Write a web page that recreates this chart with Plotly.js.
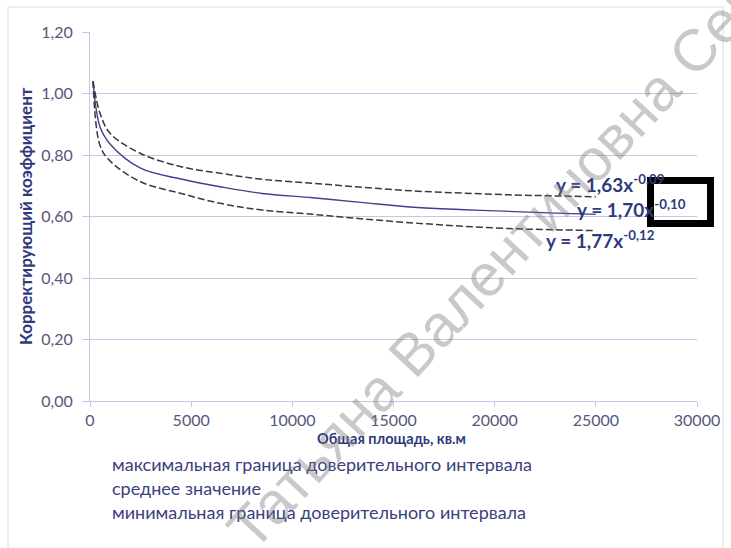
<!DOCTYPE html>
<html>
<head>
<meta charset="utf-8">
<script src="https://cdn.plot.ly/plotly-3.0.1.min.js"></script>
<style>html,body{margin:0;padding:0;background:#fff;}#chart{width:731px;height:548px;}</style>
</head>
<body>
<div id="chart"></div>
<script>
// Data
const area = [150, 500, 1000, 2500, 4500, 6500, 8500, 11000, 13500, 16000, 18500, 21000, 23000, 25000];
const upperBound = [1.04, 0.935, 0.87, 0.805, 0.762, 0.740, 0.721, 0.708, 0.695, 0.683, 0.676, 0.670, 0.667, 0.664];
const meanValue  = [1.04, 0.89, 0.835, 0.757, 0.722, 0.696, 0.675, 0.661, 0.645, 0.630, 0.622, 0.616, 0.611, 0.607];
const lowerBound = [1.04, 0.83, 0.78, 0.713, 0.675, 0.642, 0.621, 0.607, 0.592, 0.579, 0.568, 0.560, 0.557, 0.554];

const yTicks = [0, 0.2, 0.4, 0.6, 0.8, 1.0, 1.2];
const xTicks = [0, 5000, 10000, 15000, 20000, 25000, 30000];

const legendLabels = [
  "максимальная граница доверительного интервала",
  "среднее значение",
  "минимальная граница доверительного интервала"
];
const equations = ["y = 1,63x<sup>-0,09</sup>", "y = 1,70x<sup>-0,10</sup>", "y = 1,77x<sup>-0,12</sup>"];

const FONT = "Lato, 'Open Sans', sans-serif";
const NAVY = "#2f3a7e";
const GRID = "#c6c6e8";

// plot area in px: left 90, right 697, top 32, bottom 401
const L = 90, R = 697, T = 32, B = 401;
const px = x => (x - L) / (R - L);
const py = y => (B - y) / (B - T);

const traces = [
  {x: area, y: upperBound, mode: "lines", line: {color: "#3a3a3a", width: 1.5, dash: "7px,3px", shape: "spline"}, hoverinfo: "skip"},
  {x: area, y: meanValue, mode: "lines", line: {color: "#3d4190", width: 1.4, shape: "spline"}, hoverinfo: "skip"},
  {x: area, y: lowerBound, mode: "lines", line: {color: "#3a3a3a", width: 1.5, dash: "7px,3px", shape: "spline"}, hoverinfo: "skip"}
];

const ann = [];
// equations
const eqPos = [[554, 183], [575, 208], [544, 239]];
equations.forEach((t, i) => ann.push({
  xref: "paper", yref: "paper", x: px(eqPos[i][0]), y: py(eqPos[i][1]), xanchor: "left", yanchor: "middle",
  text: "<b>" + t + "</b>", showarrow: false, font: {family: FONT, size: 19, color: NAVY}
}));
// axis titles
ann.push({xref: "paper", yref: "paper", x: px(391), y: py(439), xanchor: "center", yanchor: "middle",
  text: "<b>Общая площадь, кв.м</b>", showarrow: false, font: {family: FONT, size: 14.5, color: NAVY}});
ann.push({xref: "paper", yref: "paper", x: px(25), y: py(216), xanchor: "center", yanchor: "middle", textangle: -90,
  text: "<b>Корректирующий коэффициент</b>", showarrow: false, font: {family: FONT, size: 17, color: NAVY}});
// legend text
const legY = [464, 488, 512];
legendLabels.forEach((t, i) => ann.push({
  xref: "paper", yref: "paper", x: px(110), y: py(legY[i]), xanchor: "left", yanchor: "middle",
  text: t, showarrow: false, font: {family: FONT, size: 18, color: "#3a3f80"}
}));
// watermark
ann.push({xref: "paper", yref: "paper", x: px(496), y: py(264), xanchor: "center", yanchor: "middle", textangle: -47,
  text: "Татьяна Валентиновна Сер", showarrow: false,
  font: {family: "'Liberation Sans', Arial, sans-serif", size: 59, color: "rgba(120,120,120,0.4)"}});

const shapes = [
  // chart frame
  {type: "rect", xref: "paper", yref: "paper", x0: px(8), x1: px(723), y0: py(560), y1: py(7),
   line: {color: "#dcdce4", width: 1}, layer: "below"},
  // black box
  {type: "rect", xref: "paper", yref: "paper", x0: px(650.5), x1: px(710.5), y0: py(223.5), y1: py(180.5),
   line: {color: "#000", width: 7}, layer: "above"}
];

const layout = {
  width: 731, height: 548,
  margin: {l: L, r: 731 - R, t: T, b: 548 - B},
  paper_bgcolor: "#fff", plot_bgcolor: "#fff",
  separators: ", ",
  showlegend: false,
  xaxis: {range: [0, 30000], tickvals: xTicks, tickformat: "d", showgrid: false, zeroline: false,
    showline: true, linecolor: GRID, linewidth: 1, ticks: "outside", ticklen: 5, tickcolor: GRID,
    tickfont: {family: FONT, size: 16, color: "#55587a"}, fixedrange: true},
  yaxis: {range: [0, 1.2], tickvals: yTicks, tickformat: ".2f", showgrid: true, gridcolor: GRID, gridwidth: 1,
    zeroline: false, showline: true, linecolor: GRID, linewidth: 1, ticks: "outside", ticklen: 7, tickcolor: GRID,
    ticklabelstandoff: 6,
    tickfont: {family: FONT, size: 16, color: "#55587a"}, fixedrange: true},
  annotations: ann,
  shapes: shapes
};

Plotly.newPlot("chart", traces, layout, {displayModeBar: false, staticPlot: true});
</script>
</body>
</html>
